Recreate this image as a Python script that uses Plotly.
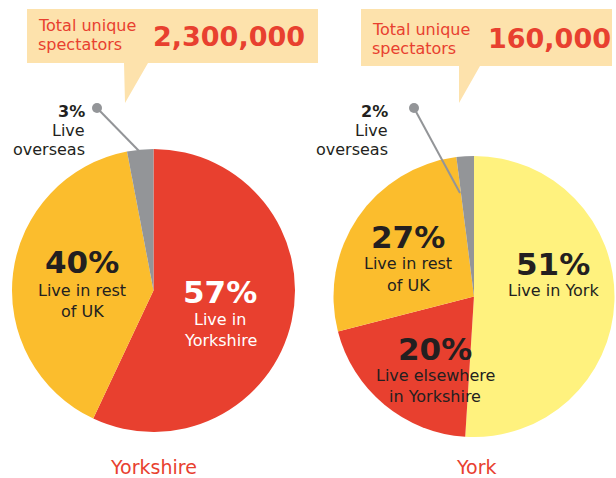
import plotly.graph_objects as go

W, H = 616, 478
FONT = "DejaVu Sans"
RED = "#E8402F"
ORANGE = "#FBBD2D"
GREY = "#939598"
LYELLOW = "#FFF27E"
CALLOUT = "#FDE2AC"
DARK = "#231F20"

# Data
yorkshire_labels = ["Live in Yorkshire", "Live in rest of UK", "Live overseas"]
yorkshire_values = [57, 40, 3]
yorkshire_colors = [RED, ORANGE, GREY]

york_labels = ["Live in York", "Live elsewhere in Yorkshire", "Live in rest of UK", "Live overseas"]
york_values = [51, 20, 27, 2]
york_colors = [LYELLOW, RED, ORANGE, GREY]

totals = ["2,300,000", "160,000"]
titles = ["Yorkshire", "York"]


def px(x):
    return x / W


def py(y):
    return 1 - y / H


fig = go.Figure()
fig.add_trace(go.Pie(
    labels=yorkshire_labels, values=yorkshire_values, sort=False, direction="clockwise",
    rotation=0, marker=dict(colors=yorkshire_colors, line=dict(width=0)),
    textinfo="none", hoverinfo="label+percent", showlegend=False,
    domain=dict(x=[px(12), px(295)], y=[py(432), py(149)]),
))
fig.add_trace(go.Pie(
    labels=york_labels, values=york_values, sort=False, direction="clockwise",
    rotation=0, marker=dict(colors=york_colors, line=dict(width=0)),
    textinfo="none", hoverinfo="label+percent", showlegend=False,
    domain=dict(x=[px(333), px(615)], y=[py(437), py(156)]),
))

shapes = []
# callout boxes with pointers
shapes.append(dict(type="path", xref="paper", yref="paper",
                   path=f"M {px(27)},{py(9)} L {px(318)},{py(9)} L {px(318)},{py(63)} L {px(148)},{py(63)} "
                        f"L {px(125)},{py(103)} L {px(124)},{py(63)} L {px(27)},{py(63)} Z",
                   fillcolor=CALLOUT, line=dict(width=0), layer="below"))
shapes.append(dict(type="path", xref="paper", yref="paper",
                   path=f"M {px(361)},{py(9)} L {px(612)},{py(9)} L {px(612)},{py(66)} L {px(480)},{py(66)} "
                        f"L {px(459)},{py(103)} L {px(459)},{py(66)} L {px(361)},{py(66)} Z",
                   fillcolor=CALLOUT, line=dict(width=0), layer="below"))
# leader lines
shapes.append(dict(type="line", xref="paper", yref="paper", x0=px(97), y0=py(108), x1=px(139), y1=py(151),
                   line=dict(color=GREY, width=2)))
shapes.append(dict(type="circle", xref="paper", yref="paper", x0=px(92), y0=py(103), x1=px(102), y1=py(113),
                   fillcolor=GREY, line=dict(width=0)))
shapes.append(dict(type="line", xref="paper", yref="paper", x0=px(414), y0=py(108), x1=px(460), y1=py(193),
                   line=dict(color=GREY, width=2)))
shapes.append(dict(type="circle", xref="paper", yref="paper", x0=px(409), y0=py(103), x1=px(419), y1=py(113),
                   fillcolor=GREY, line=dict(width=0)))

ann = []


def text(x, y, s, size, color, bold=False, xanchor="center"):
    ann.append(dict(x=px(x), y=py(y), xref="paper", yref="paper", text=(f"<b>{s}</b>" if bold else s),
                    showarrow=False, xanchor=xanchor, yanchor="middle",
                    align=xanchor if xanchor != "center" else "center",
                    font=dict(family=FONT, size=size, color=color)))


# callout text
text(36, 25, "Total unique", 16, RED, xanchor="left")
text(36, 44, "spectators", 16, RED, xanchor="left")
text(151, 37, totals[0], 27, RED, bold=True, xanchor="left")
text(370, 29, "Total unique", 16, RED, xanchor="left")
text(370, 48, "spectators", 16, RED, xanchor="left")
text(486, 38, totals[1], 27, RED, bold=True, xanchor="left")

# overseas labels
text(87, 112, f"{yorkshire_values[2]}%", 16, DARK, bold=True, xanchor="right")
text(87, 131, "Live", 16, DARK, xanchor="right")
text(87, 149, "overseas", 16, DARK, xanchor="right")
text(390, 112, f"{york_values[3]}%", 16, DARK, bold=True, xanchor="right")
text(390, 131, "Live", 16, DARK, xanchor="right")
text(390, 149, "overseas", 16, DARK, xanchor="right")

# Yorkshire pie labels
text(82, 262, f"{yorkshire_values[1]}%", 31, DARK, bold=True)
text(82, 290, "Live in rest", 16, DARK)
text(82, 311, "of UK", 16, DARK)
text(220, 292, f"{yorkshire_values[0]}%", 31, "white", bold=True)
text(220, 319, "Live in", 16, "white")
text(220, 340, "Yorkshire", 16, "white")

# York pie labels
text(408, 237, f"{york_values[2]}%", 31, DARK, bold=True)
text(408, 263, "Live in rest", 16, DARK)
text(408, 285, "of UK", 16, DARK)
text(553, 264, f"{york_values[0]}%", 31, DARK, bold=True)
text(553, 290, "Live in York", 16, DARK)
text(435, 349, f"{york_values[1]}%", 31, DARK, bold=True)
text(435, 375, "Live elsewhere", 16, DARK)
text(435, 396, "in Yorkshire", 16, DARK)

# titles
text(153, 467, titles[0], 19, RED)
text(476, 467, titles[1], 19, RED)

fig.update_layout(width=W, height=H, margin=dict(l=0, r=0, t=0, b=0),
                  paper_bgcolor="white", plot_bgcolor="white",
                  shapes=shapes, annotations=ann)
fig.write_html("out.html", config={"displayModeBar": False},
               post_script="document.body.style.margin='0';document.body.style.overflow='hidden';")
